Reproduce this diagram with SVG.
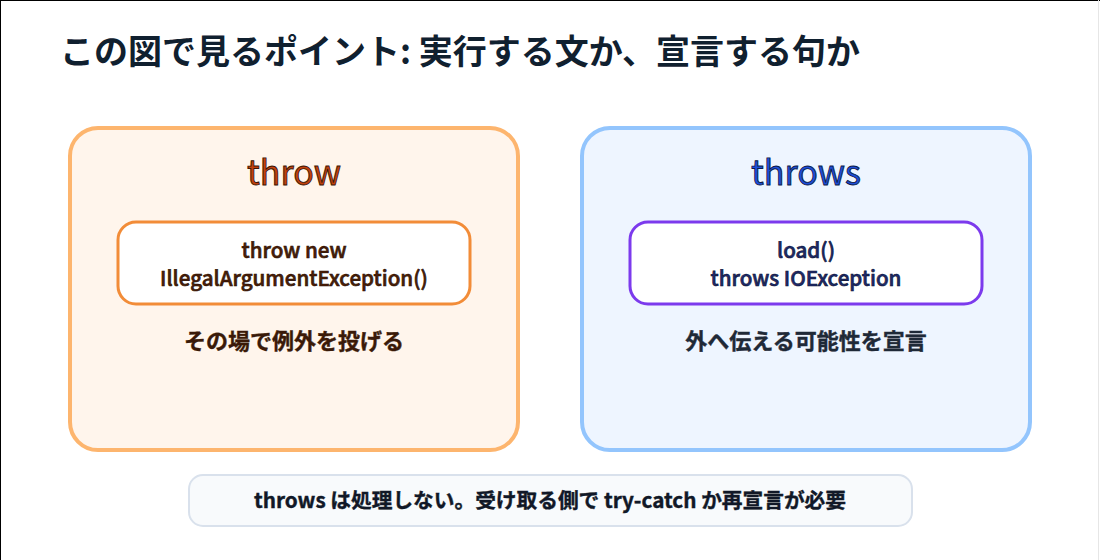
<svg xmlns="http://www.w3.org/2000/svg" width="1100" height="560" viewBox="0 0 1100 560">
<style>
text{font-family:"Noto Sans CJK JP","Noto Sans",sans-serif;text-anchor:middle}
.title{font-size:34px;font-weight:700;fill:#10202f;text-anchor:start}
.panel{stroke-width:4}
.hd{font-size:34px;font-weight:400;stroke-width:0.9}
.code{font-size:20.6px;font-weight:500;stroke-width:0.6}
.sub{font-size:22px;font-weight:700;stroke-width:0.4}
.note{font-size:20.7px;font-weight:700;stroke-width:0.4}
.inner{fill:#ffffff;stroke-width:3}
</style>
<rect x="0" y="0" width="1100" height="560" fill="#ffffff"/>
<line x1="0" y1="0.5" x2="1100" y2="0.5" stroke="#000000" stroke-width="1"/>
<line x1="0.5" y1="0" x2="0.5" y2="560" stroke="#000000" stroke-width="1"/>
<line x1="1098.5" y1="0" x2="1098.5" y2="560" stroke="#e6e6e6" stroke-width="1"/>
<text class="title" x="60" y="64">この図で見るポイント: 実行する文か、宣言する句か</text>
<g id="node-throw">
<rect class="panel" x="70" y="128" width="448" height="322" rx="28" fill="#fff5ec" stroke="#fdb56e"/>
<text class="hd" x="294" y="185" fill="#c2410c" stroke="#3a1505">throw</text>
<rect class="inner" x="118" y="222" width="352" height="82" rx="18" stroke="#f28c38"/>
<text class="code" x="294" y="258" fill="#4a1f08" stroke="#2a0e02">throw new</text>
<text class="code" x="294" y="286" fill="#4a1f08" stroke="#2a0e02">IllegalArgumentException()</text>
<text class="sub" x="294" y="349" fill="#3a1a08" stroke="#3a1a08">その場で例外を投げる</text>
</g>
<g id="node-throws">
<rect class="panel" x="582" y="128" width="448" height="322" rx="28" fill="#eef5ff" stroke="#93c5fd"/>
<text class="hd" x="806" y="185" fill="#1d4ed8" stroke="#0b1a4a">throws</text>
<rect class="inner" x="630" y="222" width="352" height="82" rx="18" stroke="#7c3aed"/>
<text class="code" x="806" y="258" fill="#1e2a6a" stroke="#0a1230">load()</text>
<text class="code" x="806" y="286" fill="#1e2a6a" stroke="#0a1230">throws IOException</text>
<text class="sub" x="806" y="349" fill="#1f2937" stroke="#1f2937">外へ伝える可能性を宣言</text>
</g>
<g id="connectors"></g>
<g id="node-note">
<rect x="189" y="475" width="723" height="51" rx="14" fill="#f8fafc" stroke="#d9e1ec" stroke-width="2"/>
<text class="note" x="550" y="508" fill="#111827" stroke="#111827">throws は処理しない。受け取る側で try-catch か再宣言が必要</text>
</g>
</svg>
